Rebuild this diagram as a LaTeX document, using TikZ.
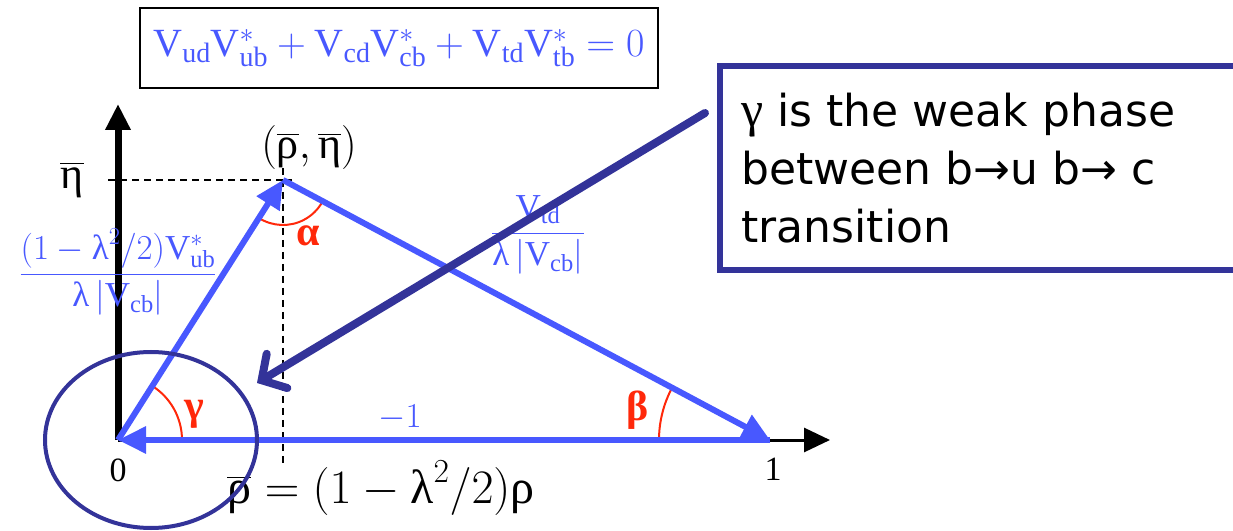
\RequirePackage{fix-cm}
\documentclass[tikz,border=0pt]{standalone}
\usepackage{amsmath}
\usepackage{fontspec}
\setmainfont{Liberation Serif}
\usetikzlibrary{arrows.meta,shapes.geometric}
\newfontfamily\boxfont{DejaVu Sans}
\newfontfamily\grkfont{Liberation Serif}
\definecolor{cblue}{RGB}{72,88,255}
\definecolor{dblue}{RGB}{51,51,153}
\definecolor{cred}{RGB}{255,40,10}
\newcommand{\Vr}{\mathrm{V}}
\newcommand{\tg}[1]{\text{#1}}
\begin{document}
\begin{tikzpicture}[x=1pt,y=1pt,
  blueedge/.style={cblue,line width=6pt,-{Triangle[length=28pt,width=26pt]}},
  axisline/.style={black,-{Triangle[length=26pt,width=24pt]}},
  anglearc/.style={cred,line width=2pt},
  anglelbl/.style={cred,font=\fontsize{42}{46}\selectfont\bfseries},
  blbl/.style={cblue,font=\fontsize{35}{38}\selectfont},
  klbl/.style={black,font=\fontsize{44}{48}\selectfont},
  dashline/.style={black,line width=2pt,dash pattern=on 7pt off 5pt}]
\useasboundingbox (0,0) rectangle (1233,530);
% points
\coordinate (O) at (118,90);
\coordinate (A) at (283,350);
\coordinate (B) at (770,90);
\coordinate (Xend) at (830,90);
\coordinate (Yend) at (118,426);
\coordinate (Etick) at (108,350);
\coordinate (Etop) at (292,350);
\coordinate (Dtop) at (283,362);
\coordinate (Dbot) at (283,65);
% axes
\draw[axisline,line width=3pt] (O) -- (Xend);
\draw[axisline,line width=7pt] (O) -- (Yend);
% dashed guides
\draw[dashline] (Etick) -- (Etop);
\draw[dashline] (Dtop) -- (Dbot);
% angle arcs
\draw[anglearc] ([shift={(64,0)}]O) arc[start angle=0,end angle=57.6,radius=64];
\draw[anglearc] ([shift={(237.6:45)}]A) arc[start angle=237.6,end angle=331.9,radius=45];
\draw[anglearc] ([shift={(-111,0)}]B) arc[start angle=180,end angle=151.9,radius=111];
% triangle
\draw[blueedge] (O) -- (A);
\draw[blueedge] (A) -- (B);
\draw[blueedge] (B) -- (O);
% labels
\node[anglelbl] (alpha) at (308,294) {α};
\node[anglelbl] (gamma) at (194,116) {γ};
\node[anglelbl] (beta) at (638,120) {β};
\node[blbl] (m1) at (400,112) {$-1$};
\node[black,font=\fontsize{34}{38}\selectfont] (zero) at (118,60) {0};
\node[black,font=\fontsize{34}{38}\selectfont] (one) at (773,61) {1};
\node[klbl] (eta) at (72,350) {$\overline{\tg{η}}$};
\node[klbl] (apex) at (309,382) {$(\overline{\tg{ρ}},\overline{\tg{η}})$};
\node[black,font=\fontsize{48}{52}\selectfont] (rhodef) at (381,42) {$\overline{\tg{ρ}}=(1-\tg{λ}^2/2)\tg{ρ}$};
\node[blbl] (leftfrac) at (118,258) {$\dfrac{(1-\tg{λ}^2/2)\Vr^*_{\mathrm{ub}}}{\tg{λ}\left|\Vr_{\mathrm{cb}}\right|}$};
\node[blbl] (rightfrac) at (538,295) {$\dfrac{\Vr_{\mathrm{td}}}{\tg{λ}\left|\Vr_{\mathrm{cb}}\right|}$};
% top equation box
\node[draw=black,line width=2pt,minimum width=518pt,minimum height=80pt,text=cblue,
  font=\fontsize{40}{44}\selectfont] (eqbox) at (399,482)
  {$\Vr_{\mathrm{ud}}\Vr^*_{\mathrm{ub}}+\Vr_{\mathrm{cd}}\Vr^*_{\mathrm{cb}}+\Vr_{\mathrm{td}}\Vr^*_{\mathrm{tb}}=0$};
% right text box
\node[draw=dblue,line width=6pt,minimum width=520pt,minimum height=204pt,anchor=north west] (tbox) at (717,467) {};
\node[anchor=west,font=\boxfont\fontsize{44}{58}\selectfont,align=left] (ttext) at (738,362)
  {{\grkfont\fontsize{50}{58}\selectfont γ} is the weak phase\\between b→u b→ c\\transition};
% ellipse and pointer
\node[draw=dblue,line width=4pt,ellipse,minimum width=212pt,minimum height=176pt,inner sep=0pt] (circ) at (151,90) {};
\coordinate (pstart) at (705,417);
\coordinate (pend) at (257,147);
\draw[dblue,line width=8pt,line cap=round,-{Straight Barb[length=18pt,width=40pt,line cap=round]}] (pstart) -- (pend);
\end{tikzpicture}
\end{document}
